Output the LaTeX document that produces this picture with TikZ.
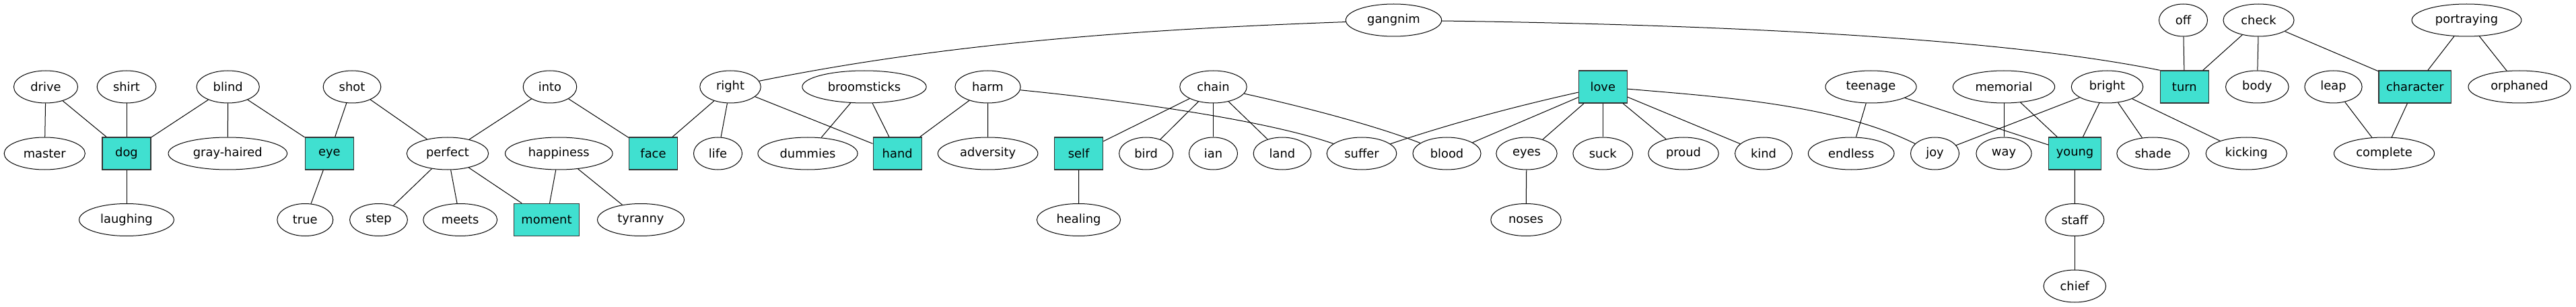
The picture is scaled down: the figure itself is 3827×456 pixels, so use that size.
\documentclass[tikz,border=0pt]{standalone}
\usepackage{fontspec}
\setmainfont{DejaVu Sans}
\usepackage{tikz}
\usetikzlibrary{shapes.geometric}
\definecolor{turq}{HTML}{40E0D0}
\definecolor{boxline}{HTML}{333333}

\begin{document}
\begin{tikzpicture}[x=0.75pt,y=-0.75pt,line width=0.75pt]
                \tikzstyle{every node}=[font=\fontsize{13.4pt}{16pt}\selectfont,minimum width=54pt,minimum height=36pt,inner xsep=8.25pt,inner ysep=2pt]
                \tikzstyle{word}=[ellipse,draw=black,fill=white]
                \tikzstyle{term}=[rectangle,draw=boxline,fill=turq,line width=1pt]
                \useasboundingbox (0,0) rectangle (3827,456);

                % top row
                \node[word] (gangnim)     at (2070.5,30) {gangnim};
                \node[word] (off)         at (3243.5,30) {off};
                \node[word] (check)       at (3355.5,30) {check};
                \node[word] (portraying)  at (3664.5,30) {portraying};

                % second row
                \node[word] (drive)       at (68,129)    {drive};
                \node[word] (shirt)       at (188,129)   {shirt};
                \node[word] (blind)       at (338.7,129) {blind};
                \node[word] (shot)        at (523,129)   {shot};
                \node[word] (into)        at (817,129)   {into};
                \node[word] (right)       at (1085,129)  {right};
                \node[word] (broomsticks) at (1284,129)  {broomsticks};
                \node[word] (harm)        at (1467.5,129) {harm};
                \node[word] (chain)       at (1802.5,129) {chain};
                \node[term] (love)        at (2381.3,129) {love};
                \node[word] (teenage)     at (2779.5,129) {teenage};
                \node[word] (memorial)    at (2977,129)  {memorial};
                \node[word] (bright)      at (3130.5,129) {bright};
                \node[term] (turn)        at (3245.3,129) {turn};
                \node[word] (body)        at (3353.3,129) {body};
                \node[word] (leap)        at (3466.5,129) {leap};
                \node[term] (character)   at (3587.8,129) {character};
                \node[word] (orphaned)    at (3743,129)  {orphaned};

                % third row
                \node[word] (master)      at (66.3,228)  {master};
                \node[term] (dog)         at (188,228)   {dog};
                \node[word] (grayhaired)  at (338.3,228) {gray-haired};
                \node[term] (eye)         at (489.3,228) {eye};
                \node[word] (perfect)     at (665,228)   {perfect};
                \node[word] (happiness)   at (830.3,228) {happiness};
                \node[term] (face)        at (970.5,228) {face};
                \node[word] (life)        at (1066.5,228) {life};
                \node[word] (dummies)     at (1200,228)  {dummies};
                \node[term] (hand)        at (1333.2,228) {hand};
                \node[word] (adversity)   at (1467.6,228) {adversity};
                \node[term] (self)        at (1602.6,228) {self};
                \node[word] (bird)        at (1702.7,228) {bird};
                \node[word] (ian)         at (1802.5,228) {ian};
                \node[word] (land)        at (1905,228)  {land};
                \node[word] (suffer)      at (2023,228)  {suffer};
                \node[word] (blood)       at (2149.5,228) {blood};
                \node[word] (eyes)        at (2268,228)  {eyes};
                \node[word] (suck)        at (2381.3,228) {suck};
                \node[word] (proud)       at (2501,228)  {proud};
                \node[word] (kind)        at (2620,228)  {kind};
                \node[word] (endless)     at (2750.2,228) {endless};
                \node[word] (joy)         at (2874.5,228) {joy};
                \node[word] (way)         at (2977,228)  {way};
                \node[term] (young)       at (3082.5,228) {young};
                \node[word] (shade)       at (3198.5,228) {shade};
                \node[word] (kicking)     at (3337.3,228) {kicking};
                \node[word] (complete)    at (3542,228)  {complete};

                % fourth and fifth row
                \node[word] (laughing)    at (188,326.5) {laughing};
                \node[word] (true)        at (453.3,326.5) {true};
                \node[word] (step)        at (562.5,326.5) {step};
                \node[word] (meets)       at (683.7,326.5) {meets};
                \node[term] (moment)      at (812,326.5) {moment};
                \node[word] (tyranny)     at (952,326.5) {tyranny};
                \node[word] (healing)     at (1602.5,326.5) {healing};
                \node[word] (noses)       at (2267,326.5) {noses};
                \node[word] (staff)       at (3082.3,326.5) {staff};
                \node[word] (chief)       at (3082.3,425) {chief};

                \path
                (drive) edge (master) edge (dog)
                (shirt) edge (dog)
                (blind) edge (dog) edge (grayhaired) edge (eye)
                (shot) edge (eye) edge (perfect)
                (into) edge (perfect) edge (face)
                (dog) edge (laughing)
                (eye) edge (true)
                (perfect) edge (step) edge (meets) edge (moment)
                (happiness) edge (moment) edge (tyranny)
                (right) edge (face) edge (life) edge (hand)
                (broomsticks) edge (dummies) edge (hand)
                (harm) edge (hand) edge (adversity)
                (chain) edge (self) edge (bird) edge (ian) edge (land)
                (self) edge (healing)
                (love) edge (blood) edge (eyes) edge (suck) edge (proud) edge (kind)
                (eyes) edge (noses)
                (teenage) edge (endless) edge (young)
                (memorial) edge (way) edge (young)
                (bright) edge (joy) edge (young) edge (shade) edge (kicking)
                (off) edge (turn)
                (check) edge (turn) edge (body) edge (character)
                (portraying) edge (character) edge (orphaned)
                (leap) edge (complete)
                (character) edge (complete)
                (young) edge (staff)
                (staff) edge (chief);

                % long curved links
                \draw (right) .. controls (1416,62) and (1710,43) .. (gangnim);
                \draw (gangnim) .. controls (2500,36) and (2950,52) .. (turn.north west);
                \draw (harm) .. controls (1640,146) and (1870,175) .. (suffer);
                \draw (chain) .. controls (1925,156) and (2040,185) .. (blood);
                \draw (love) .. controls (2251,158) and (2157,183) .. (suffer);
                \draw (love) .. controls (2557,144) and (2727,155) .. (joy);
            \end{tikzpicture}
\end{document}
